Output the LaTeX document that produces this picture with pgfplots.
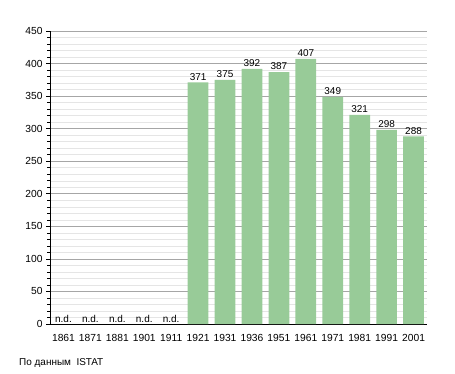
\documentclass[border=0pt]{standalone}
\usepackage{pgfplots}
\pgfplotsset{compat=1.18}
\usepackage{fontspec}
\setmainfont{Liberation Sans}
\definecolor{bargreen}{RGB}{152,203,152}
\begin{document}
\begin{tikzpicture}[x=1bp,y=1bp]
\useasboundingbox (0,0) rectangle (455,373);
\begin{axis}[
  at={(50bp,49bp)}, anchor=south west,
  scale only axis,
  width=377bp, height=293bp,
  xmin=-0.5, xmax=13.5,
  ymin=0, ymax=450,
  axis x line*=bottom, axis y line*=left,
  axis line style={line width=0.8pt},
  xtick={0,...,13},
  xticklabels={1861,1871,1881,1901,1911,1921,1931,1936,1951,1961,1971,1981,1991,2001},
  x tick style={draw=none},
  ytick={0,50,...,450},
  minor y tick num=4,
  tick align=outside,
  major tick length=4bp, minor tick length=3bp,
  y tick style={black, line width=0.6pt},
  ymajorgrids, yminorgrids,
  major grid style={draw=black!35, line width=0.6pt},
  minor grid style={draw=black!10, line width=0.5pt},
  tick label style={font=\fontsize{10.3}{12}\selectfont},
  /pgf/number format/assume math mode=true,
  xticklabel style={yshift=-2.5bp},
  clip=false,
]
\addplot[ybar, bar width=0.77, fill=bargreen, draw=none,
  nodes near coords, nodes near coords style={font=\fontsize{10}{12}\selectfont, black, inner sep=2bp}]
  coordinates {(5,371) (6,375) (7,392) (8,387) (9,407) (10,349) (11,321) (12,298) (13,288)};
\addplot[draw=none, mark=none, nodes near coords={n.d.},
  nodes near coords style={font=\fontsize{10}{12}\selectfont, black, anchor=south, inner sep=1.5bp}]
  coordinates {(0,0) (1,0) (2,0) (3,0) (4,0)};
\end{axis}
\node[anchor=west, inner sep=0pt, font=\fontsize{10}{12}\selectfont] at (19bp,10bp) {По данным\ \ ISTAT};
\end{tikzpicture}
\end{document}
